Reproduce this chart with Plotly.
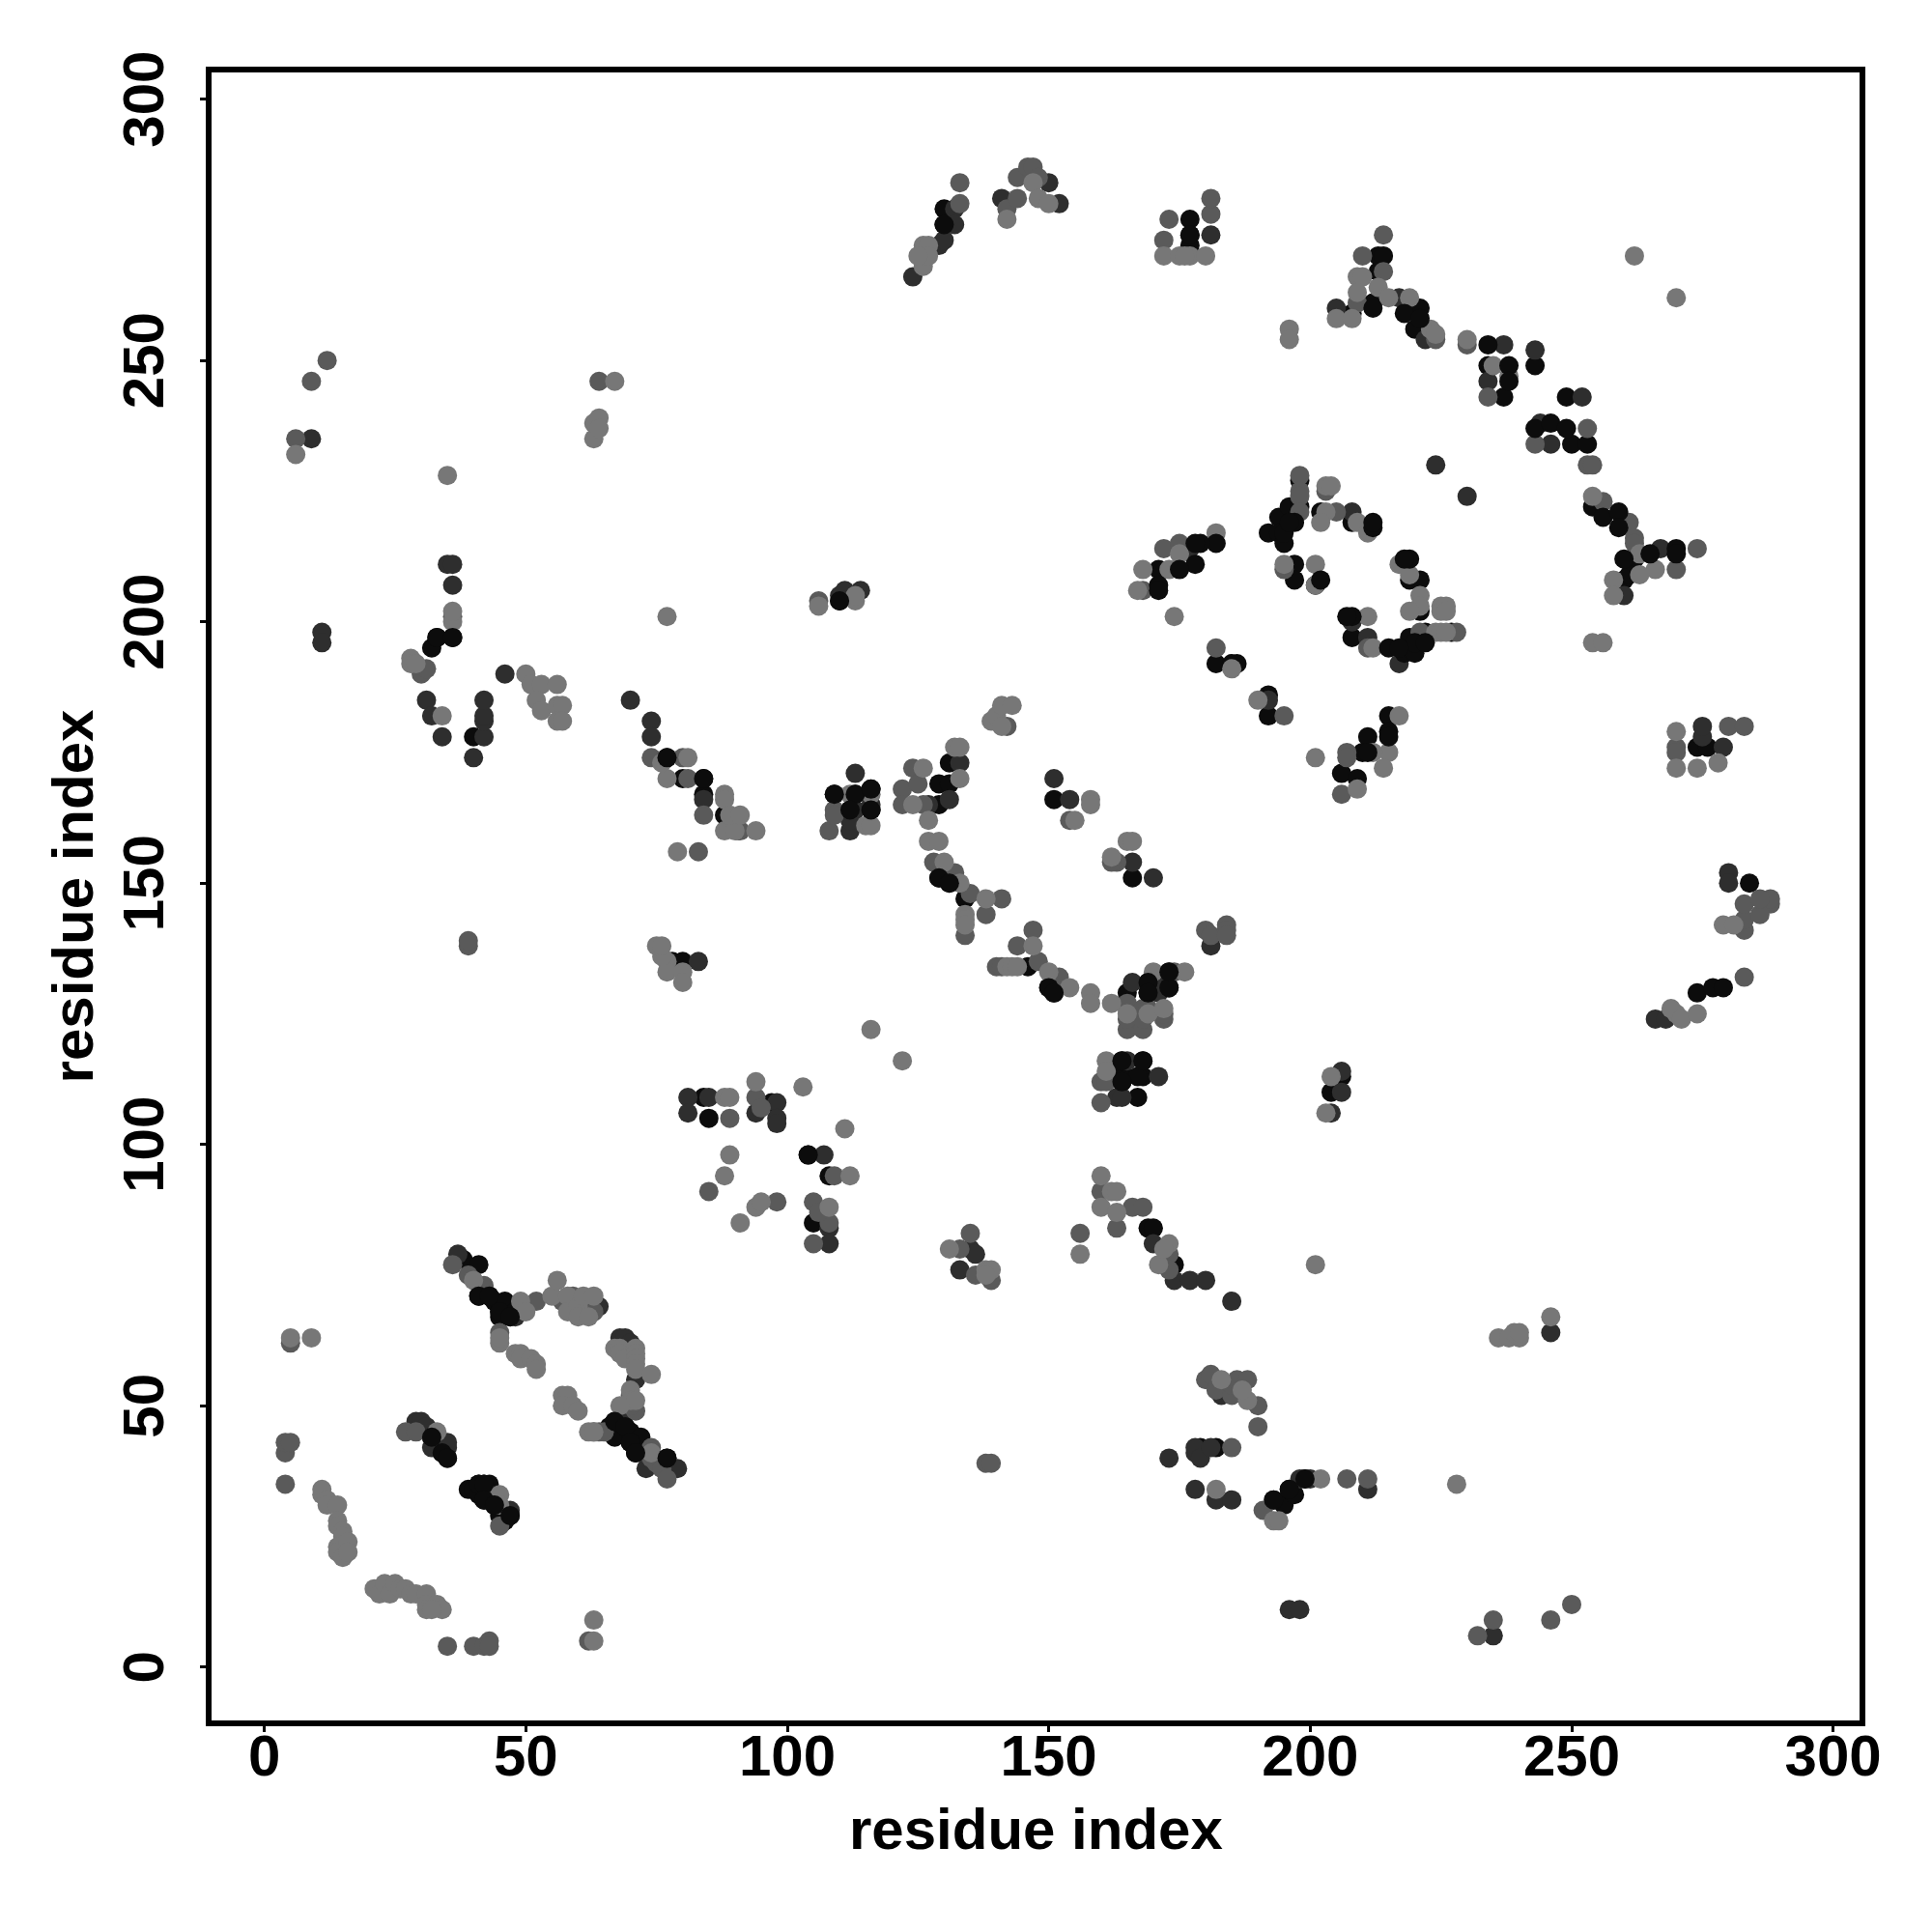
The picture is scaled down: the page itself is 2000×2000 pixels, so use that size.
import plotly.graph_objects as go

light = [(11,33),(11,34),(12,32),(12,31),(14,31),(14,28),(14,27),(15,26),(15,25),(14,23),(14,22),(15,21),(16,24),(16,22),
(21,15),(22,14),(23,16),(24,14),(25,16),(26,15),(27,15),(28,14),(29,14),(31,14),(31,12),(31,11),(33,12),(34,11),(32,11),
(63,5),(63,9),(5,63),(9,63),(33,45),(45,33),(45,31),(45,62),(45,63),(40,74),(49,70),(50,68),(48,60),(49,60),(49,59),(51,59),(52,58),(52,57),
(55,71),(56,74),(58,71),(58,68),(60,69),(60,67),(61,71),(63,71),(62,67),(57,52),(58,52),(57,50),(59,50),(60,49),(62,45),(63,45),
(67,61),(68,61),(68,60),(69,59),(71,61),(71,60),(71,59),(71,58),(71,57),(70,53),(74,56),(70,51),(71,51),(68,50),(74,41),
(182,34),(228,35),(193,28),(194,28),(202,36),(183,55),(188,51),(187,53),(236,63),(238,63),(240,63),(239,64),(240,64),(246,67),(201,77),
(160,94),(160,88),(162,91),(163,91),(163,87),(171,77),(173,81),(172,80),(156,79),(131,80),(138,76),(139,76),(138,75),
(88,94),(89,98),(91,85),(94,88),(95,89),(88,109),(89,109),(94,112),(103,111),(108,88),(111,103),(112,94),(116,122),(122,116),
(161,116),(161,114),(203,106),(204,113),(77,135),(77,133),(76,136),(75,138),(80,133),(80,131),(76,138),
(270,125),(269,126),(271,124),(274,125),(279,142),(281,142),(270,179),(270,172),(274,172),(278,173),
(28,193),(28,192),(29,192),(36,200),(36,202),(34,182),(50,190),(51,188),(53,188),(52,185),(53,183),(56,188),(56,184),(57,184),(56,181),(57,181),
(35,228),(6,232),(63,235),(63,238),(64,239),(64,237),(67,246),(77,170),(76,173),(81,174),(88,167),(88,166),(88,160),(90,160),(89,163),(91,163),(94,160),
(79,156),(77,201),(106,203),(113,204),(113,205),(115,161),(116,161),(112,167),(116,167),(126,172),(124,165),(132,176),(133,176),(133,170),(127,162),(127,158),(129,158),
(130,154),(133,150),(134,144),(134,143),(134,142),(138,147),(147,138),(142,134),(143,134),(144,134),(150,133),(154,130),(158,129),(158,127),(162,127),
(169,125),(172,126),(170,133),(176,133),(165,125),(155,162),(158,166),(158,165),(162,155),(165,158),(166,158),
(126,268),(126,272),(127,272),(127,270),(125,270),(142,277),(147,284),(148,281),(150,280),(139,181),(140,182),(141,180),(141,184),(143,184),
(172,270),(175,270),(177,270),(176,270),(180,270),(262,270),(270,262),(196,256),(196,254),
(209,168),
(182,217),(168,210),(167,206),(173,210),(175,213),(174,201),(203,226),(204,226),(203,221),(209,219),(211,217),(202,219),(195,211),(201,211),(201,207),(217,211),(219,209),(221,205),(221,203),(219,202),(225,203),(225,202),(226,203),(226,202),(211,201),(212,195),(224,198),(225,198),(226,198),(185,191),(190,185),(217,182),(215,175),(201,174),(214,172),(212,175),
(205,258),(208,258),(209,266),(210,266),(213,264),(209,263),(215,262),(219,262),(223,256),(224,255),(230,254),(235,249),(238,247),(254,224),(263,213),(266,210),(263,209),(258,208),(258,205),(254,196),(256,196)]

mid = [(35,4),(40,4),(42,4),(43,5),(43,4),(62,5),(4,35),(4,41),(4,43),(5,43),(5,62),(27,45),(29,45),(45,27),(36,77),(39,75),(42,73),(45,64),
(52,70),(57,70),(59,71),(63,68),(61,68),(63,45),(64,45),(65,45),(71,49),(70,52),(70,50),(74,42),(74,40),(75,39),(76,38),(77,36),(138,39),(139,39),(185,42),
(232,6),(235,9),(246,9),(250,12),(191,30),(207,36),(211,36),(180,55),(181,56),(182,53),(185,52),(185,54),(186,55),(188,55),(190,50),(190,46),
(160,91),(163,84),(166,88),(168,88),(173,79),(173,76),(156,83),(133,80),(135,83),(136,75),(139,74),
(85,91),(98,89),(89,105),(94,109),(95,107),(105,89),(105,81),(108,85),(109,94),(106,87),
(39,138),(39,139),(283,132),(283,141),(283,143),(288,146),(288,147),(283,146),(286,144),(286,147),(270,176),(270,175),(280,180),(283,180),
(30,190),(31,191),(36,201),(12,250),(9,246),(6,235),(64,246),(74,174),(80,174),(81,170),(84,163),(91,160),(83,156),(106,204),(108,160),(109,164),(109,163),(122,168),(122,165),(124,172),(125,169),(126,165),
(128,154),(132,152),(135,148),(134,140),(138,144),(141,147),(147,141),(144,138),(140,134),(141,134),(148,135),(152,132),
(165,122),(165,124),(165,126),(165,127),(168,122),(168,124),(168,126),(169,126),(172,124),(172,125),(174,133),(154,162),(163,154),(162,154),(180,141),(181,140),(184,142),(184,141),(184,140),(160,112),(161,112),(160,108),(206,167),
(133,280),(133,284),(142,279),(144,281),(144,285),(146,287),(147,287),(148,285),(142,180),
(172,273),(173,277),(181,278),(181,281),
(168,206),(172,214),(175,215),(198,228),(198,225),(198,224),(198,221),(203,225),(205,221),(195,210),(211,195),(221,198),(228,198),(182,195),(195,182),(207,175),(207,174),(214,274),(210,270),(214,267),(209,261),(224,254),(230,253),(234,243),(253,237),(243,234),(253,230),(254,230),(256,223),(261,219),(262,216),(262,215),(274,214),(270,210)]

dark = [(29,47),(32,42),(34,43),(35,42),(35,43),(30,47),(31,46),(43,33),(47,30),(37,79),(48,67),(62,69),(63,69),(64,69),(68,63),(69,63),(70,62),(69,49),(71,55),(73,38),(76,39),(79,38),
(173,40),(178,41),(178,42),(179,40),(181,42),(178,34),(182,32),(185,32),(196,11),(198,11),(235,6),(198,36),(200,36),(211,34),(183,52),(246,64),
(170,81),(174,74),(177,74),(180,74),(185,70),(133,76),(135,80),(136,79),(81,109),(81,106),(85,109),(94,106),(98,108),(98,105),(98,104),(107,98),(108,84),(108,81),
(163,109),(164,109),(165,116),(171,113),(206,114),(206,110),(204,106),(83,135),(266,124),(268,124),(280,152),(280,150),(275,178),(279,176),(275,180),
(35,211),(36,211),(36,207),(31,185),(32,182),(34,178),(11,198),(11,196),(40,174),(42,178),(42,181),(42,182),(42,185),(46,190),(9,235),(70,185),(74,181),(74,178),(84,166),
(110,205),(111,206),(114,206),(112,160),(112,162),(113,171),(113,164),(116,165),(133,173),(131,166),(127,165),(166,131),(173,133),(171,129),(171,131),
(151,170),(154,166),(166,154),(170,151),(181,138),(124,266),(129,272),(130,273),(132,279),(132,276),(141,281),(150,284),(152,280),(181,274),
(224,230),(230,224),
(176,214),(177,214),(208,221),(208,200),(211,197),(217,192),(192,185),(205,260),(217,262),(222,254),(237,253),(234,246),(243,252),(252,243),(244,238),(246,234),(267,214),(260,205)]

black = [(32,44),(34,41),(35,40),(33,42),(39,34),(40,34),(41,35),(42,35),(43,35),(41,33),(42,32),(44,31),(45,29),(47,29),(46,28),(38,78),(41,77),(41,71),(43,71),(44,70),(45,68),(46,69),(46,70),(45,67),(47,67),(48,68),
(67,47),(66,46),(68,45),(67,44),(69,46),(70,45),(70,43),(71,42),(72,44),(71,41),(77,40),(179,42),(182,42),(193,32),(195,31),(196,34),(197,33),(199,36),
(169,84),(170,84),(174,77),(84,109),(85,105),(97,108),(104,98),(105,85),(108,94),(164,112),(164,114),(164,116),(167,109),(168,116),(168,113),(167,113),
(206,113),(204,110),(78,135),(80,135),(274,129),(277,130),(279,130),(284,150),(274,176),(276,176),
(32,195),(33,197),(36,197),(40,178),(77,174),(80,170),(84,170),(84,167),(88,163),(110,204),(109,167),(113,167),(112,164),(116,168),(116,164),
(129,169),(131,173),(131,169),(129,165),(129,151),(131,150),(134,147),(146,134),(150,130),(151,129),(169,131),(173,130),(169,129),(165,129),
(151,166),(166,151),(130,276),(130,279),(177,274),(177,277),(177,272),(206,171),(209,170),
(171,210),(192,217),(194,220),(194,217),(196,222),(195,215),(195,217),(197,211),(197,208),(201,207),(202,221),(208,219),(198,227),(198,222),(219,208),(221,208),(221,202),(208,197),(219,197),(222,198),(227,198),(182,192),(185,192),(186,192),(192,186),(192,182),(215,182),(211,178),(210,175),
(213,270),(214,270),(213,267),(212,261),(208,259),(221,260),(220,256),(234,249),(237,243),(243,249),(249,243),(250,234),(253,234),(254,222),(262,212),(260,208),(261,209)]

# dark discs that sit above the lighter discs in the dense clusters
top_black = [(182,215),(179,215),(178,215),(178,211),(175,210),(171,207),(171,206),(197,219),(196,219),(202,208),(219,212),(218,212),(212,218),(212,219),(208,201),(207,201),(218,194),(220,194),(220,196),(222,196),(215,195),(217,195),(215,179),(215,178),(211,175),
(234,253),(238,249),(238,246),(243,237),(246,238),(249,237),(256,220),(259,221),(259,218),(260,212),(265,213),(270,214),(270,213),(212,260),(218,259),(221,258),
(32,44),(34,41),(35,40),(41,35),(42,35),(42,32),(44,31),(47,29),(41,71),(43,71),(45,68),(47,67),(67,47),(69,46),(70,43),(71,41),(77,40),(164,116),(164,112),(168,116),(130,276),(177,274),(169,131),(169,129),(173,130),(173,133),(129,151),(131,150),(150,130),(151,129),(110,204),(113,167),(109,167),(116,168),(116,164),(112,164),(84,170),(77,174),(33,197),(36,197),(104,98),(193,32),(196,34),(199,36)]

groups = [("#0c0c0c", black), ("#2e2e2e", dark), ("#5a5a5a", mid), ("#777777", light), ("#0c0c0c", top_black)]
tick_vals = [0, 50, 100, 150, 200, 250, 300]
font = dict(family="Liberation Sans", size=60, color="black", weight=700)

fig = go.Figure()
for color, pts in groups:
    fig.add_trace(go.Scatter(x=[p[0] for p in pts], y=[p[1] for p in pts], mode="markers",
                             marker=dict(size=20, color=color, line=dict(width=0)), showlegend=False))

axis = dict(tickvals=tick_vals, ticks="outside", ticklen=6, tickwidth=3, tickcolor="black",
            showline=True, linewidth=6, linecolor="black", mirror=True, showgrid=False, zeroline=False,
            tickfont=font)
fig.update_xaxes(**axis, range=[-10.1, 305.05], ticklabelstandoff=-27)
fig.update_yaxes(**axis, range=[-10.2, 305.1], tickangle=-90, ticklabelstandoff=14, ticklabelshift=9,
                 title=dict(text="residue index", font=font, standoff=1))
fig.add_annotation(text="residue index", font=font, showarrow=False, xref="paper", yref="paper",
                   x=0.5, y=-0.0657, xanchor="center", yanchor="middle")
fig.update_layout(width=2000, height=2000, autosize=False, plot_bgcolor="white", paper_bgcolor="white",
                  margin=dict(l=219, r=75, t=75, b=219, autoexpand=False))
fig.write_html("out.html", config=dict(displayModeBar=False), post_script="document.body.style.margin='0';")
